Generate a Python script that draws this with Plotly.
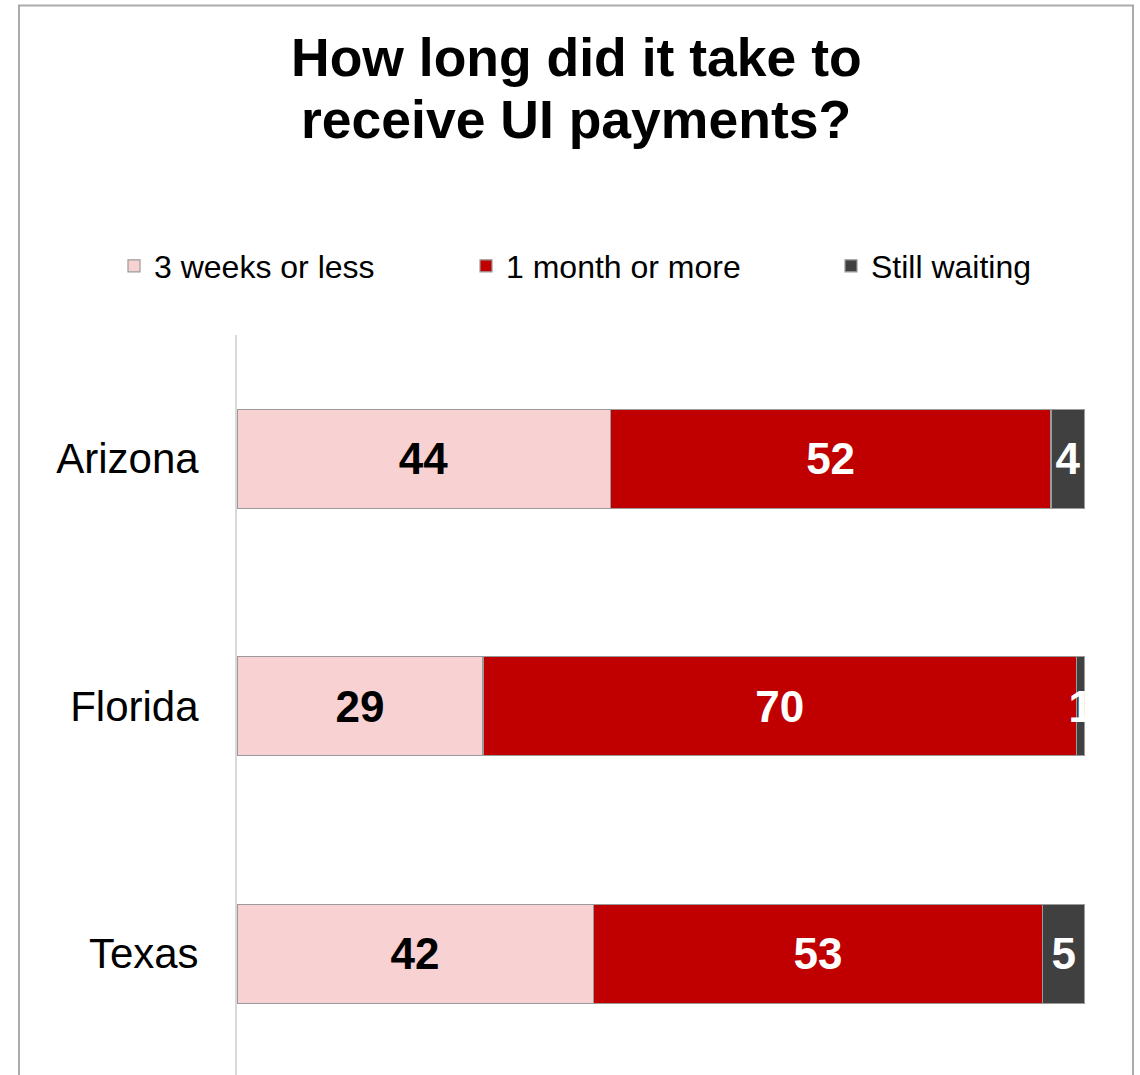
import plotly.graph_objects as go

# Survey results: time taken to receive unemployment insurance payments (%)
states = ["Arizona", "Florida", "Texas"]
series_names = ["3 weeks or less", "1 month or more", "Still waiting"]
weeks3_or_less = [44, 29, 42]
month_or_more = [52, 70, 53]
still_waiting = [4, 1, 5]

series_values = [weeks3_or_less, month_or_more, still_waiting]
fill_colors = ["#F8D1D2", "#C00000", "#404040"]
label_colors = ["#000000", "#FFFFFF", "#FFFFFF"]
legend_ids = ["legend", "legend2", "legend3"]

FONT = "Arial, Liberation Sans, sans-serif"

fig = go.Figure()
for name, vals, fc, lc, lg in zip(series_names, series_values, fill_colors,
                                  label_colors, legend_ids):
    fig.add_trace(go.Bar(
        name=name,
        y=states,
        x=vals,
        orientation="h",
        width=0.4,
        legend=lg,
        marker=dict(color=fc, line=dict(color="#9A9A9A", width=1.2)),
        text=[str(v) for v in vals],
        textposition="inside",
        insidetextanchor="middle",
        textangle=0,
        constraintext="none",
        cliponaxis=True,
        textfont=dict(family=FONT, size=44, color=lc, weight="bold"),
        hoverinfo="skip",
    ))

W, H = 1140, 1075
L, R, T, B = 237, 55, 335, 0
pw, ph = W - L - R, H - T - B


def px_x(x):
    return (x - L) / pw


def px_y(y):
    return (H - B - y) / ph


def legend_at(left_px):
    return dict(
        orientation="h",
        x=px_x(left_px),
        xanchor="left",
        y=px_y(266),
        yanchor="middle",
        font=dict(family=FONT, size=32, color="#000000"),
        bgcolor="rgba(0,0,0,0)",
    )


fig.update_layout(
    width=W,
    height=H,
    margin=dict(l=L, r=R, t=T, b=B, pad=0),
    barmode="stack",
    paper_bgcolor="white",
    plot_bgcolor="white",
    font=dict(family=FONT, color="#000000"),
    showlegend=True,
    legend=legend_at(114),
    legend2=legend_at(466),
    legend3=legend_at(831),
    xaxis=dict(range=[0, 100], visible=False, fixedrange=True),
    yaxis=dict(
        type="category",
        categoryorder="array",
        categoryarray=states,
        range=[2.49, -0.5],
        showline=True,
        linecolor="#D9D9D9",
        linewidth=2,
        showgrid=False,
        zeroline=False,
        ticks="",
        ticklabelstandoff=28,
        tickfont=dict(family=FONT, size=42, color="#000000"),
    ),
    annotations=[
        dict(text="<b>How long did it take to</b>", xref="paper", yref="paper",
             x=px_x(576), y=px_y(58), xanchor="center", yanchor="middle",
             showarrow=False, font=dict(family=FONT, size=53.5, color="#000000")),
        dict(text="<b>receive UI payments?</b>", xref="paper", yref="paper",
             x=px_x(576), y=px_y(119), xanchor="center", yanchor="middle",
             showarrow=False, font=dict(family=FONT, size=53.5, color="#000000")),
    ],
    shapes=[
        dict(type="rect", xref="paper", yref="paper",
             x0=px_x(19), x1=px_x(1133), y0=px_y(1100), y1=px_y(5.5),
             line=dict(color="#ABABAB", width=2), fillcolor="rgba(0,0,0,0)",
             layer="below"),
    ],
)

fig.write_html("out.html")
